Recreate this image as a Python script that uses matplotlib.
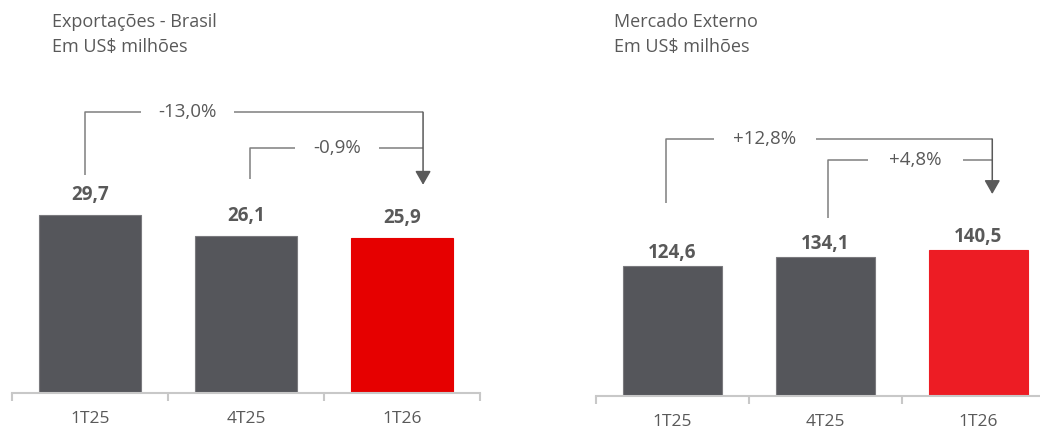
import matplotlib.pyplot as plt

plt.rcParams["font.family"] = ["Open Sans", "DejaVu Sans"]

# Dados
categorias = ["1T25", "4T25", "1T26"]
exportacoes = [29.7, 26.1, 25.9]  # US$ milhões
mercado_externo = [124.6, 134.1, 140.5]  # US$ milhões
var_exportacoes = ["-13,0%", "-0,9%"]  # 1T25 -> 1T26, 4T25 -> 1T26
var_mercado = ["+12,8%", "+4,8%"]

CINZA = "#55565b"
TEXTO = "#595959"
LINHA = "#7f7f7f"
EIXO = "#c8c8c8"

W, H = 1040, 430
fig = plt.figure(figsize=(W / 100, H / 100), dpi=100)


def rect(x0, y_base, width, y_top):
    # retângulo em pixels (origem no topo) -> fração da figura
    return [x0 / W, (H - y_base) / H, width / W, (y_base - y_top) / H]


def painel(ax, valores, cor_destaque, px_por_unidade, altura_px, offset_rotulo):
    cores = [CINZA, CINZA, cor_destaque]
    bordas = ["#7a7a7e", "#7a7a7e", cor_destaque]
    x = range(len(categorias))
    ax.bar(x, valores, width=0.65, color=cores, edgecolor=bordas, linewidth=0.8)
    ax.set_xlim(-0.5, 2.5)
    ax.set_ylim(0, altura_px / px_por_unidade)
    for xi, v in zip(x, valores):
        ax.annotate(f"{v:.1f}".replace(".", ","), (xi, v), xytext=(0, offset_rotulo),
                    textcoords="offset pixels", ha="center", va="bottom",
                    fontsize=13.5, fontweight="bold", color=TEXTO)
    for s in ["left", "right", "top"]:
        ax.spines[s].set_visible(False)
    ax.spines["bottom"].set_color(EIXO)
    ax.spines["bottom"].set_linewidth(1.5)
    ax.set_yticks([])
    ax.set_xticks([-0.5, 0.5, 1.5, 2.5])
    ax.set_xticklabels([])
    ax.tick_params(axis="x", which="major", length=6, width=1.5, color=EIXO)
    ax.set_xticks(list(x), minor=True)
    ax.set_xticklabels(categorias, minor=True, fontsize=12.5, color=TEXTO)
    ax.tick_params(axis="x", which="minor", length=0, pad=13)


def colchete(ax, x0, y0, nivel, x1, gap, x_texto, rotulo, ponta=None):
    kw = dict(color=LINHA, lw=1.1, solid_capstyle="butt")
    ax.plot([x0, x0, gap[0]], [y0, nivel, nivel], **kw)
    ax.plot([gap[1], x1], [nivel, nivel], **kw)
    ax.text(x_texto, nivel, rotulo, ha="center", va="center", fontsize=13.5, color=TEXTO)
    if ponta is not None:
        ax.annotate("", xy=(x1, ponta), xytext=(x1, nivel),
                    arrowprops=dict(arrowstyle="-|>,head_length=0.7,head_width=0.4",
                                    mutation_scale=12, color="#5a5a5a", lw=1.1,
                                    shrinkA=0, shrinkB=0))


# Painel esquerdo
ax1 = fig.add_axes(rect(12, 393, 468, 60))
painel(ax1, exportacoes, "#e60000", 6.0, 333, 10)
colchete(ax1, -0.03, 36.3, 46.8, 2.135, (0.327, 0.923), 0.625, var_exportacoes[0], ponta=34.7)
colchete(ax1, 1.026, 35.7, 40.8, 2.135, (1.314, 1.853), 1.583, var_exportacoes[1])

# Painel direito
ax2 = fig.add_axes(rect(596, 396, 459, 60))
painel(ax2, mercado_externo, "#ed1c24", 1.04, 336, 3)
colchete(ax2, -0.04, 185.6, 247.1, 2.09, (0.271, 0.938), 0.60, var_mercado[0], ponta=194.2)
colchete(ax2, 1.016, 171.2, 226.9, 2.09, (1.278, 1.899), 1.585, var_mercado[1])

# Títulos
for x0, linha1 in [(52, "Exportações - Brasil"), (614, "Mercado Externo")]:
    fig.text(x0 / W, 1 - 13 / H, linha1, ha="left", va="top", fontsize=13, color=TEXTO)
    fig.text(x0 / W, 1 - 38 / H, "Em US$ milhões", ha="left", va="top", fontsize=13, color=TEXTO)

fig.savefig("out.png", dpi=100)
